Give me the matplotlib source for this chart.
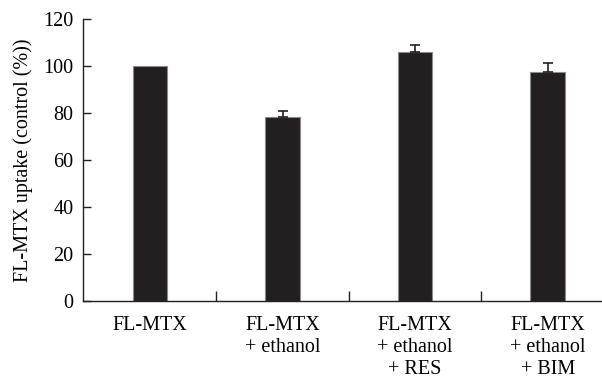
import matplotlib
matplotlib.use("Agg")
import matplotlib.pyplot as plt
import numpy as np

categories = ["FL-MTX", "FL-MTX\n+ ethanol", "FL-MTX\n+ ethanol\n+ RES", "FL-MTX\n+ ethanol\n+ BIM"]
values = [100, 78.1, 105.9, 97.3]
errors = [0, 2.8, 2.8, 4.0]
yticks = [0, 20, 40, 60, 80, 100, 120]

plt.rcParams['font.family'] = ['Liberation Serif', 'DejaVu Serif']

fig = plt.figure(figsize=(6.02, 3.79), dpi=100)
ax = fig.add_axes([83/602, 1-301/379, 1-83/602, (301-18.6)/379])

x = np.arange(len(categories))
ax.bar(x, values, width=0.26, color='#231f20', edgecolor='#8a8a8a', linewidth=0.8, zorder=2)
yerr = np.array([np.zeros(len(errors)), errors])
mask = np.array(errors) > 0
ax.errorbar(x[mask], np.array(values)[mask], yerr=yerr[:, mask], fmt='none', ecolor='#231f20',
            elinewidth=1.2, capsize=3.6, capthick=1.2, zorder=3)

ax.set_xlim(-0.505, 3.41)
ax.set_ylim(0, 120)
ax.set_yticks(yticks)
ax.tick_params(axis='y', direction='in', length=6, width=1, labelsize=14.5, pad=7, color='#231f20')
ax.set_xticks([0.5, 1.5, 2.5])
ax.set_xticklabels([])
ax.tick_params(axis='x', which='major', direction='in', length=7, width=1, color='#231f20')
ax.set_xticks(x, minor=True)
ax.set_xticklabels(categories, minor=True, fontsize=14.5, linespacing=1.22)
ax.tick_params(axis='x', which='minor', length=0, pad=11)

for s in ['top', 'right']:
    ax.spines[s].set_visible(False)
for s in ['left', 'bottom']:
    ax.spines[s].set_linewidth(1.0)
    ax.spines[s].set_color('#231f20')

ax.set_ylabel("FL-MTX uptake (control (%))", fontsize=14.5, labelpad=7)

fig.savefig("out.png", dpi=100)
